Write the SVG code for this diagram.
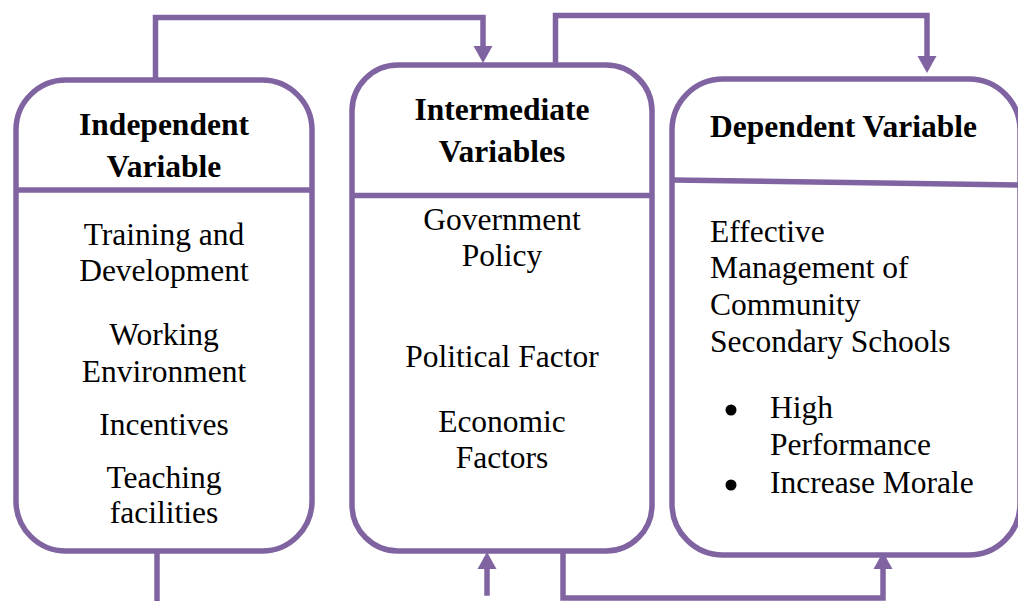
<svg xmlns="http://www.w3.org/2000/svg" width="1018" height="601" viewBox="0 0 1018 601">
  <style>
    .frame { fill: #ffffff; stroke: #8064A2; stroke-width: 5.5; }
    .rule { stroke: #8064A2; stroke-width: 5.5; fill: none; }
    .link { stroke: #8064A2; stroke-width: 5.5; fill: none; stroke-linecap: square; }
    text { font-family: "Liberation Serif", "Times New Roman", serif; font-size: 31.5px; fill: #000000; }
    .head { font-weight: bold; }
    .mid { text-anchor: middle; }
    .dot { fill: #000000; }
  </style>
  <defs>
    <marker id="arrow" markerUnits="userSpaceOnUse" viewBox="0 -10 18 20" refX="0" refY="0" markerWidth="18" markerHeight="20" orient="auto">
      <path d="M0,-9.5 L17,0 L0,9.5 Z" fill="#8064A2"/>
    </marker>
  </defs>

  <rect width="1018" height="601" fill="#ffffff"/>

  <!-- connectors between the three boxes -->
  <g id="connectors">
    <path class="link" d="M155.5,76 V17.5 H483 V46" marker-end="url(#arrow)"/>
    <path class="link" d="M555.5,60 V15.5 H927 V56" marker-end="url(#arrow)"/>
    <path class="link" d="M157,554 V604"/>
    <path class="link" d="M487,593 V569" marker-end="url(#arrow)"/>
    <path class="link" d="M563,554 V598 H883 V569" marker-end="url(#arrow)"/>
  </g>

  <!-- independent variable box -->
  <g id="independent">
    <rect class="frame" x="16" y="80" width="296" height="471" rx="50" ry="50"/>
    <line class="rule" x1="16" y1="190" x2="312" y2="190"/>
    <text class="head mid" x="164" y="135">Independent</text>
    <text class="head mid" x="164" y="177">Variable</text>
    <text class="mid" x="164" y="245">Training and</text>
    <text class="mid" x="164" y="281">Development</text>
    <text class="mid" x="164" y="345">Working</text>
    <text class="mid" x="164" y="382">Environment</text>
    <text class="mid" x="164" y="435">Incentives</text>
    <text class="mid" x="164" y="488">Teaching</text>
    <text class="mid" x="164" y="523">facilities</text>
  </g>

  <!-- intermediate variables box -->
  <g id="intermediate">
    <rect class="frame" x="352" y="65" width="300" height="486" rx="46" ry="46"/>
    <line class="rule" x1="352" y1="195.5" x2="652" y2="195.5"/>
    <text class="head mid" x="502" y="120">Intermediate</text>
    <text class="head mid" x="502" y="162">Variables</text>
    <text class="mid" x="502" y="230">Government</text>
    <text class="mid" x="502" y="266">Policy</text>
    <text class="mid" x="502" y="367">Political Factor</text>
    <text class="mid" x="502" y="432">Economic</text>
    <text class="mid" x="502" y="468">Factors</text>
  </g>

  <!-- dependent variable box (its right side runs past the canvas edge) -->
  <g id="dependent">
    <rect class="frame" x="672" y="79" width="348" height="476" rx="51" ry="51"/>
    <line class="rule" x1="672" y1="180" x2="1018" y2="185"/>
    <text class="head" x="710" y="137">Dependent Variable</text>
    <text x="710" y="242">Effective</text>
    <text x="710" y="278">Management of</text>
    <text x="710" y="315">Community</text>
    <text x="710" y="352">Secondary Schools</text>
    <circle class="dot" cx="731" cy="410" r="5.5"/>
    <text x="770" y="418">High</text>
    <text x="770" y="455">Performance</text>
    <circle class="dot" cx="731" cy="485" r="5.5"/>
    <text x="770" y="493">Increase Morale</text>
  </g>
</svg>
